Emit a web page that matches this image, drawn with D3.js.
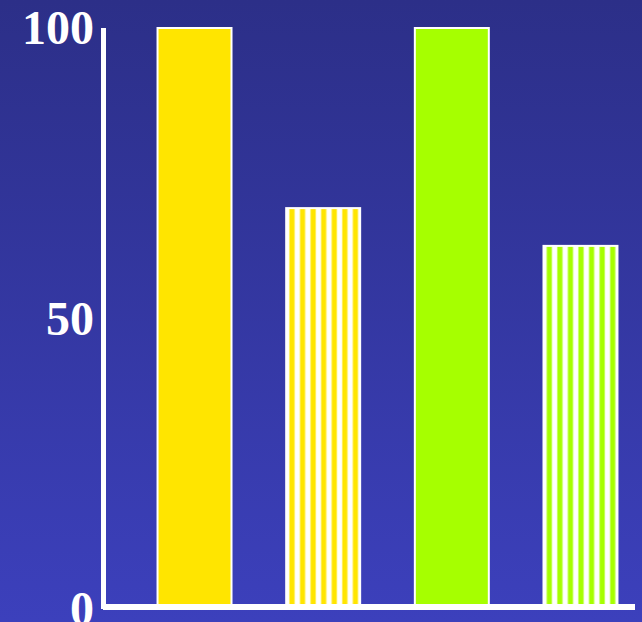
<!DOCTYPE html>
<html>
<head>
<meta charset="utf-8">
<script src="https://cdn.jsdelivr.net/npm/d3@7"></script>
<style>
  html, body { margin: 0; padding: 0; overflow: hidden; }
  svg { display: block; }
</style>
</head>
<body>
<script>
// ---- data ----
const categories = ["A", "B", "C", "D"];
const values = [100, 69, 100, 62.5];
const fills = ["yellow", "yellowStripe", "green", "greenStripe"];
const tickValues = [0, 50, 100];
const tickLabels = ["0", "50", "100"];

const W = 642, H = 622;
const yellow = "#ffe500", green = "#a6ff00";

const svg = d3.select("body").append("svg").attr("width", W).attr("height", H);
const defs = svg.append("defs");

const bg = defs.append("linearGradient").attr("id", "bg")
  .attr("x1", 0).attr("y1", 0).attr("x2", 0).attr("y2", 1);
bg.append("stop").attr("offset", "0%").attr("stop-color", "#2c2f88");
bg.append("stop").attr("offset", "100%").attr("stop-color", "#3c40bc");
svg.append("rect").attr("width", W).attr("height", H).attr("fill", "url(#bg)");

function stripePattern(id, color) {
  const g = defs.append("linearGradient").attr("id", id + "G")
    .attr("x1", 0).attr("y1", 0).attr("x2", 1).attr("y2", 0);
  [[0, "#ffffff"], [0.22, "#ffffff"], [0.38, color], [0.72, color], [0.88, "#ffffff"], [1, "#ffffff"]]
    .forEach(([o, c]) => g.append("stop").attr("offset", o).attr("stop-color", c));
  const p = defs.append("pattern").attr("id", id)
    .attr("patternUnits", "objectBoundingBox")
    .attr("patternContentUnits", "objectBoundingBox")
    .attr("width", 1 / 7).attr("height", 1);
  p.append("rect").attr("width", 1 / 7).attr("height", 1).attr("fill", "url(#" + id + "G)");
}
stripePattern("yellowStripe", yellow);
stripePattern("greenStripe", green);

const fillMap = { yellow: yellow, green: green, yellowStripe: "url(#yellowStripe)", greenStripe: "url(#greenStripe)" };

const y = d3.scaleLinear().domain([0, 100]).range([609, 28]);
const x = d3.scaleBand().domain(categories).range([131.8, 643.2])
  .paddingInner(0.425).paddingOuter(0.2);

svg.selectAll("rect.bar").data(categories).join("rect")
  .attr("class", "bar")
  .attr("x", d => x(d))
  .attr("width", x.bandwidth())
  .attr("y", (d, i) => y(values[i]))
  .attr("height", (d, i) => y(0) - y(values[i]))
  .attr("fill", (d, i) => fillMap[fills[i]])
  .attr("stroke", "#ffffff")
  .attr("stroke-width", 2);

// axes
svg.append("line")
  .attr("x1", 103.5).attr("x2", 103.5)
  .attr("y1", y(100)).attr("y2", y(0))
  .attr("stroke", "#ffffff").attr("stroke-width", 5);
svg.append("line")
  .attr("x1", 103).attr("x2", 635)
  .attr("y1", y(0) - 2).attr("y2", y(0) - 2)
  .attr("stroke", "#ffffff").attr("stroke-width", 6);

svg.selectAll("text.tick").data(tickValues).join("text")
  .attr("class", "tick")
  .attr("x", 94)
  .attr("y", d => y(d) + 16)
  .attr("text-anchor", "end")
  .attr("font-family", "'Liberation Serif', 'Times New Roman', serif")
  .attr("font-weight", "bold")
  .attr("font-size", 48)
  .attr("fill", "#ffffff")
  .text((d, i) => tickLabels[i]);
</script>
</body>
</html>
